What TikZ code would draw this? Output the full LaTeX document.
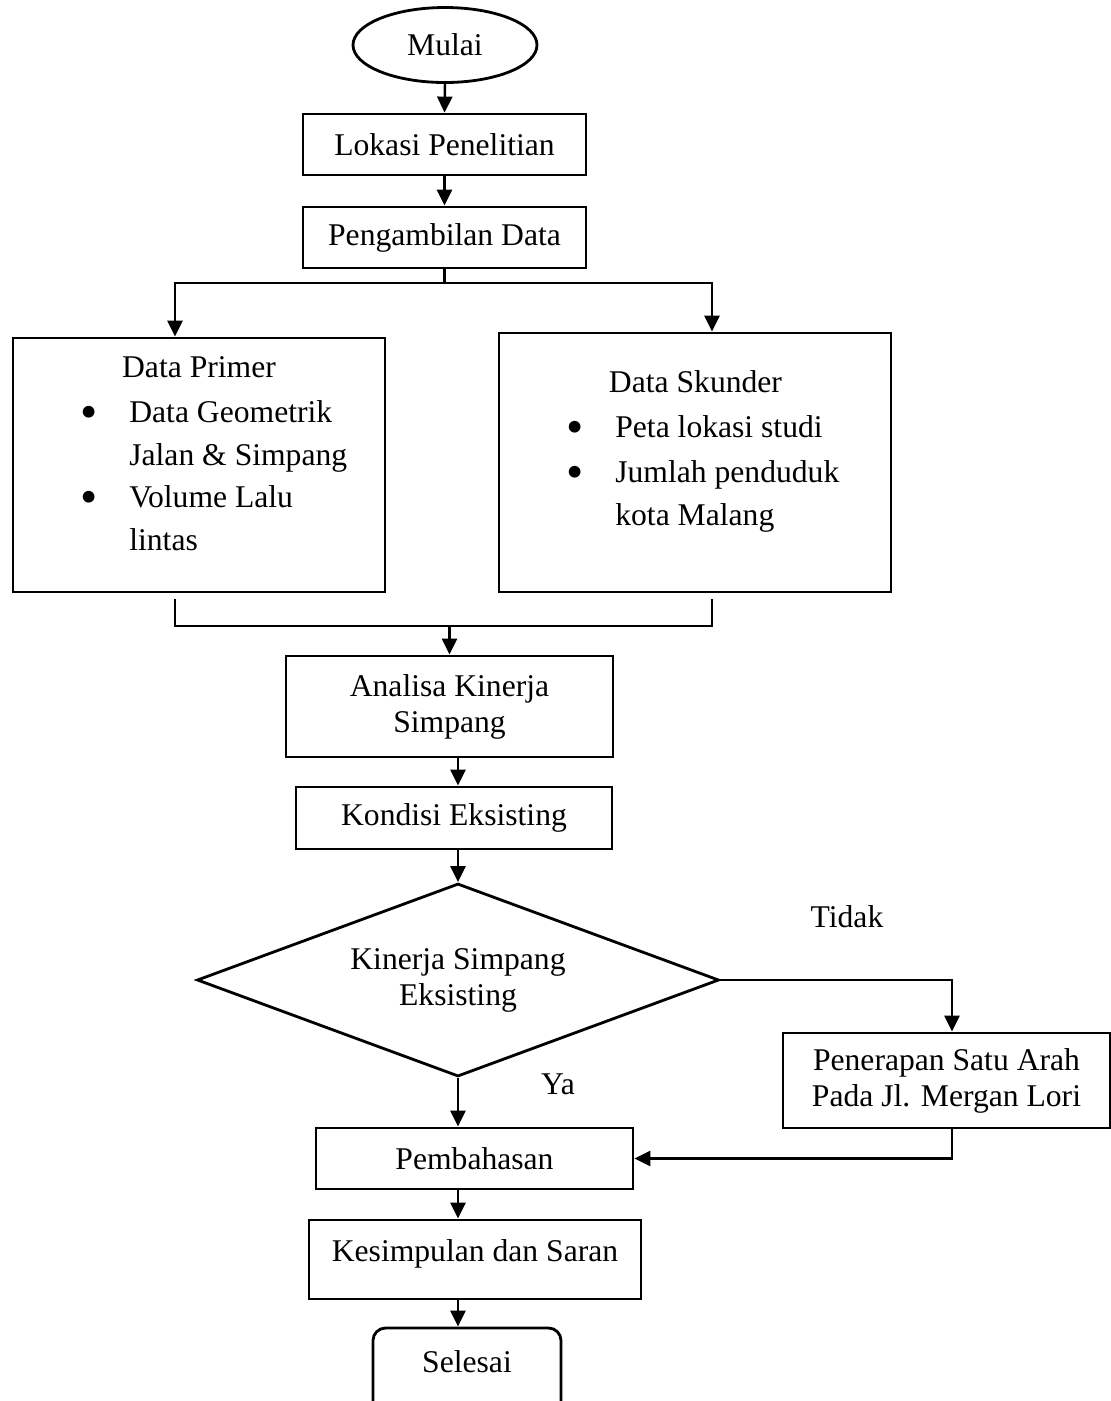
\documentclass[tikz,border=0pt]{standalone}
\usepackage{fontspec}
\setmainfont{Liberation Serif}
\usetikzlibrary{shapes.geometric,arrows.meta}
\newcommand\diagfont{\fontsize{18}{20.5}\selectfont}
\begin{document}
\begin{tikzpicture}[x=0.02cm,y=-0.02cm,
  size/.style 2 args={minimum width=#1*0.02cm, minimum height=#2*0.02cm},
  box/.style={draw, line width=1.6pt, inner sep=0pt, align=center, font=\diagfont},
  ell/.style={draw, ellipse, line width=1.6pt, inner sep=0pt, font=\diagfont},
  dia/.style={draw, diamond, shape aspect=2.7, line width=1.6pt, inner sep=0pt, align=center, font=\diagfont},
  txt/.style={inner sep=0pt, font=\diagfont, text height=12pt, text depth=3.5pt},
  bul/.style={inner sep=0pt, font=\fontsize{28}{28}\selectfont, text height=12pt, text depth=3.5pt, yshift=-0.13cm},
  ln/.style={line width=1.4pt},
  arr/.style={line width=1.4pt, -{Triangle[length=0.32cm,width=0.3cm]}},
  arrboth/.style={line width=1.4pt, {Triangle[length=0.32cm,width=0.3cm]}-{Triangle[length=0.32cm,width=0.3cm]}}
]
\useasboundingbox (0,0) rectangle (1111,1401);

% nodes
\node[ell,size={184}{75}] (mulai) at (445,45) {Mulai};
\node[box,size={283}{61}] (lokasi) at (444.5,144.5) {Lokasi Penelitian};
\node[box,size={283}{61}] (ambil) at (444.5,237.5) {Pengambilan Data};
\node[box,size={372}{254}] (primer) at (199,465) {};
\node[box,size={392}{259}] (skunder) at (695,462.5) {};
\node[box,size={327}{101}] (analisa) at (449.5,706.5) {Analisa Kinerja\\Simpang};
\node[box,size={316}{62}] (kondisi) at (454,818) {Kondisi Eksisting};
\node[dia,size={522}{193}] (dia) at (458,980) {Kinerja Simpang\\Eksisting};
\node[box,size={327}{95}] (pene) at (946.5,1080.5) {Penerapan Satu Arah\\Pada Jl. Mergan Lori};
\node[box,size={317}{61}] (pemb) at (474.5,1158.5) {Pembahasan};
\node[box,size={332}{79}] (kesim) at (475,1259.5) {};
\node[txt] (kesimlbl) at (475,1254) {Kesimpulan dan Saran};
\node[box,rounded corners=0.25cm,size={188}{110}] (selesai) at (467,1383) {};
\node[txt] (seltxt) at (467,1365) {Selesai};

% texts in primer box
\node[txt] (ptitle) at (199,370) {Data Primer};
\node[bul] (pb1) at (89,415) {•};
\node[txt,anchor=west] (p1) at (129,415) {Data Geometrik};
\node[txt,anchor=west] (p1b) at (129,458) {Jalan \& Simpang};
\node[bul] (pb2) at (89,500) {•};
\node[txt,anchor=west] (p2) at (129,500) {Volume Lalu};
\node[txt,anchor=west] (p2b) at (129,543) {lintas};

% texts in skunder box
\node[txt] (stitle) at (695.5,385) {Data Skunder};
\node[bul] (sb1) at (575,430) {•};
\node[txt,anchor=west] (s1) at (615,430) {Peta lokasi studi};
\node[bul] (sb2) at (575,475) {•};
\node[txt,anchor=west] (s2) at (615,475) {Jumlah penduduk};
\node[txt,anchor=west] (s2b) at (615,518) {kota Malang};

% labels
\node[txt] (tidak) at (847,920) {Tidak};
\node[txt] (ya) at (558,1087) {Ya};

% coordinates
\coordinate (jL) at (175,283);
\coordinate (jR) at (712,283);
\coordinate (mL) at (175,626);
\coordinate (mR) at (712,626);
\coordinate (pS) at ([yshift=-0.12cm]primer.south);
\coordinate (sS) at ([yshift=-0.12cm]skunder.south);
\coordinate (vR) at (952,980);

% connectors
\draw[arr] (mulai.south) -- (lokasi.north);
\draw[arr] (lokasi.south) -- (ambil.north);
\draw[ln] (ambil.south) -- (ambil.south |- jL);
\draw[arrboth] (jL |- primer.north) -- (jL) -- (jR) -- (jR |- skunder.north);
\draw[ln] (pS -| mL) -- (mL) -- (mR) -- (sS -| mR);
\draw[arr] (analisa.north |- mL) -- (analisa.north);
\draw[arr] (dia.north |- analisa.south) -- (dia.north |- kondisi.north);
\draw[arr] (dia.north |- kondisi.south) -- (dia.north);
\draw[arr] (dia.east) -- (vR) -- (vR |- pene.north);
\draw[arr] (vR |- pene.south) -- (vR |- pemb.east) -- (pemb.east);
\draw[arr] (dia.south) -- (dia.south |- pemb.north);
\draw[arr] (dia.south |- pemb.south) -- (dia.south |- kesim.north);
\draw[arr] (dia.south |- kesim.south) -- (dia.south |- selesai.north);
\end{tikzpicture}
\end{document}
